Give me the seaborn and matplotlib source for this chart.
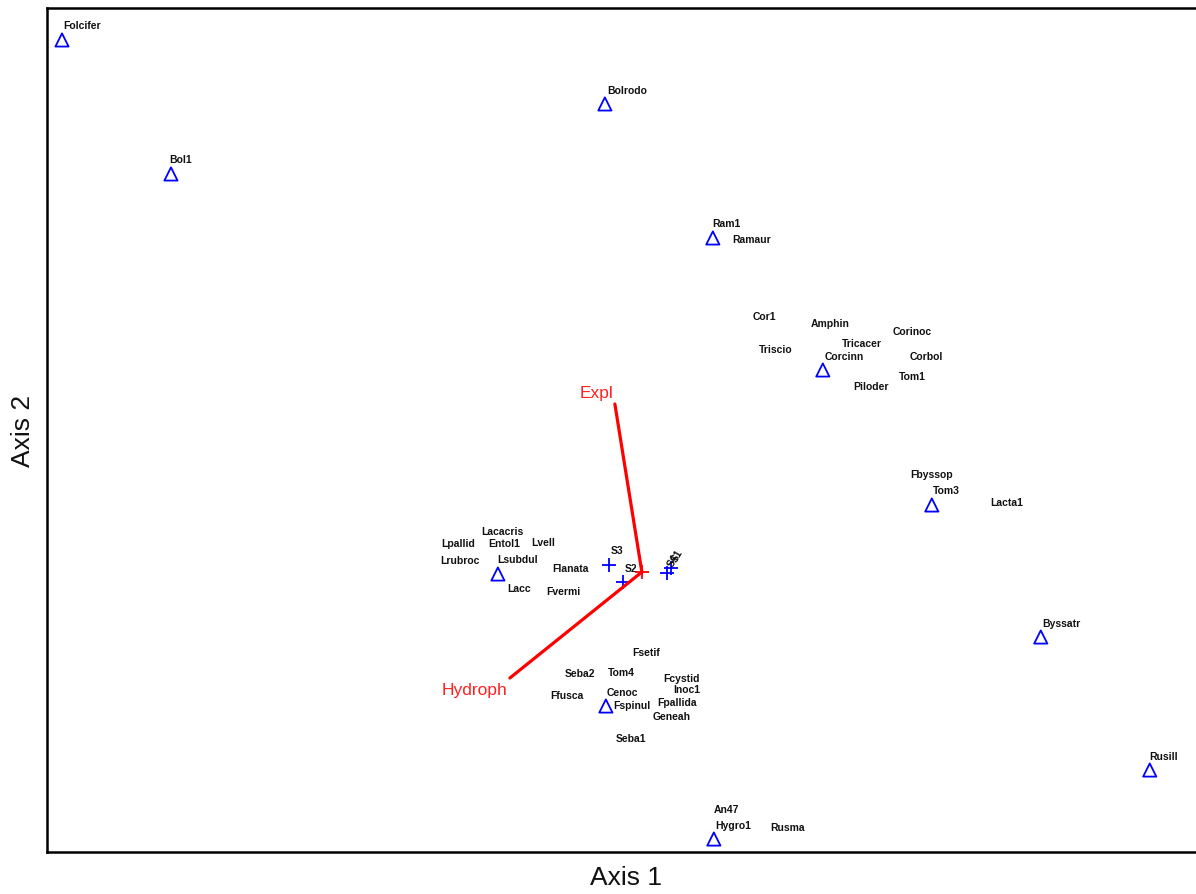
import matplotlib
matplotlib.use("Agg")
import matplotlib.pyplot as plt
import seaborn as sns
import pandas as pd

# ordination scores (axis units arbitrary)
tri_x = [-5.80, -4.71, -0.37, 0.71, 1.81, 2.90, 3.99, 5.08, 0.72, -0.36, -1.44]
tri_y = [5.32, 3.98, 4.68, 3.34, 2.02, 0.67, -0.65, -1.98, -2.67, -1.34, -0.02]

plot_names = ["S1", "S2", "S3", "S4"]
plot_x = [0.29, -0.19, -0.33, 0.25]
plot_y = [0.04, -0.10, 0.07, -0.01]
plot_lab_x = [0.35, -0.11, -0.25, 0.31]
plot_lab_y = [0.17, 0.04, 0.22, 0.12]
plot_rot = [60, 0, 0, 60]

vec_names = ["Expl", "Hydroph"]
vec_x = [-0.27, -1.32]
vec_y = [1.68, -1.06]
vec_lab_x = [-0.45, -1.67]
vec_lab_y = [1.79, -1.17]

species = ["Folcifer", "Bol1", "Bolrodo", "Ram1", "Ramaur", "Cor1", "Amphin",
           "Corinoc", "Tricacer", "Triscio", "Corcinn", "Corbol", "Tom1",
           "Piloder", "Fbyssop", "Tom3", "Lacta1", "Byssatr", "Rusill",
           "Lacacris", "Lpallid", "Entol1", "Lvell", "Lrubroc", "Lsubdul",
           "Flanata", "Lacc", "Fvermi", "Fsetif", "Seba2", "Tom4", "Fcystid",
           "Inoc1", "Ffusca", "Cenoc", "Fspinul", "Fpallida", "Geneah",
           "Seba1", "An47", "Hygro1", "Rusma"]
sp_x = [-5.60, -4.61, -0.15, 0.85, 1.10, 1.23, 1.88, 2.70, 2.20, 1.34, 2.02,
        2.85, 2.71, 2.29, 2.90, 3.05, 3.65, 4.20, 5.22, -1.40, -1.84, -1.38,
        -0.99, -1.82, -1.24, -0.71, -1.23, -0.79, 0.04, -0.62, -0.21, 0.40,
        0.45, -0.75, -0.19, -0.10, 0.35, 0.30, -0.11, 0.85, 0.91, 1.46]
sp_y = [5.47, 4.13, 4.82, 3.49, 3.33, 2.56, 2.49, 2.41, 2.29, 2.23, 2.16,
        2.16, 1.96, 1.86, 0.98, 0.82, 0.70, -0.51, -1.84, 0.41, 0.29, 0.29,
        0.30, 0.12, 0.13, 0.04, -0.16, -0.19, -0.80, -1.01, -1.00, -1.06,
        -1.17, -1.23, -1.20, -1.33, -1.30, -1.44, -1.66, -2.37, -2.53, -2.55]

sns.set_style("white")
plt.rcParams["font.family"] = ["Liberation Sans", "DejaVu Sans"]

fig = plt.figure(figsize=(11.96, 8.95), dpi=100)
ax = fig.add_axes([0.0393, 0.0469, 0.968, 0.9431])

tri = pd.DataFrame({"x": tri_x, "y": tri_y})
sns.scatterplot(data=tri, x="x", y="y", ax=ax, marker="^", s=90,
                facecolor="none", edgecolor="#0000ff", linewidth=1.3, zorder=3)

plots = pd.DataFrame({"x": plot_x, "y": plot_y})
sns.scatterplot(data=plots, x="x", y="y", ax=ax, marker="+", s=110,
                color="#0000ff", linewidth=1.3, zorder=3)

# joint vectors
for vx, vy in zip(vec_x, vec_y):
    ax.plot([0, vx], [0, vy], color="#ff0000", lw=2.3, zorder=4)
ax.scatter([0], [0], marker="+", s=110, color="#ff0000", linewidths=1.3, zorder=4)
for name, lx, ly in zip(vec_names, vec_lab_x, vec_lab_y):
    ax.text(lx, ly, name, color="#ff2020", fontsize=12.5, ha="center", va="center")

for name, lx, ly, r in zip(plot_names, plot_lab_x, plot_lab_y, plot_rot):
    ax.text(lx, ly, name, fontsize=7.5, fontweight="bold", ha="center",
            va="center", rotation=r, color="#111111")

for name, lx, ly in zip(species, sp_x, sp_y):
    ax.text(lx, ly, name, fontsize=7.5, fontweight="bold", ha="center",
            va="center", color="#111111")

ax.set_xlim(-5.95, 5.63)
ax.set_ylim(-2.80, 5.64)
ax.set_xticks([])
ax.set_yticks([])
for sp in ax.spines.values():
    sp.set_linewidth(1.8)
    sp.set_color("black")
ax.set_xlabel("Axis 1", fontsize=19, labelpad=9, color="#111111")
ax.set_ylabel("Axis 2", fontsize=19, labelpad=9, color="#111111")

fig.savefig("out.png", dpi=100)
